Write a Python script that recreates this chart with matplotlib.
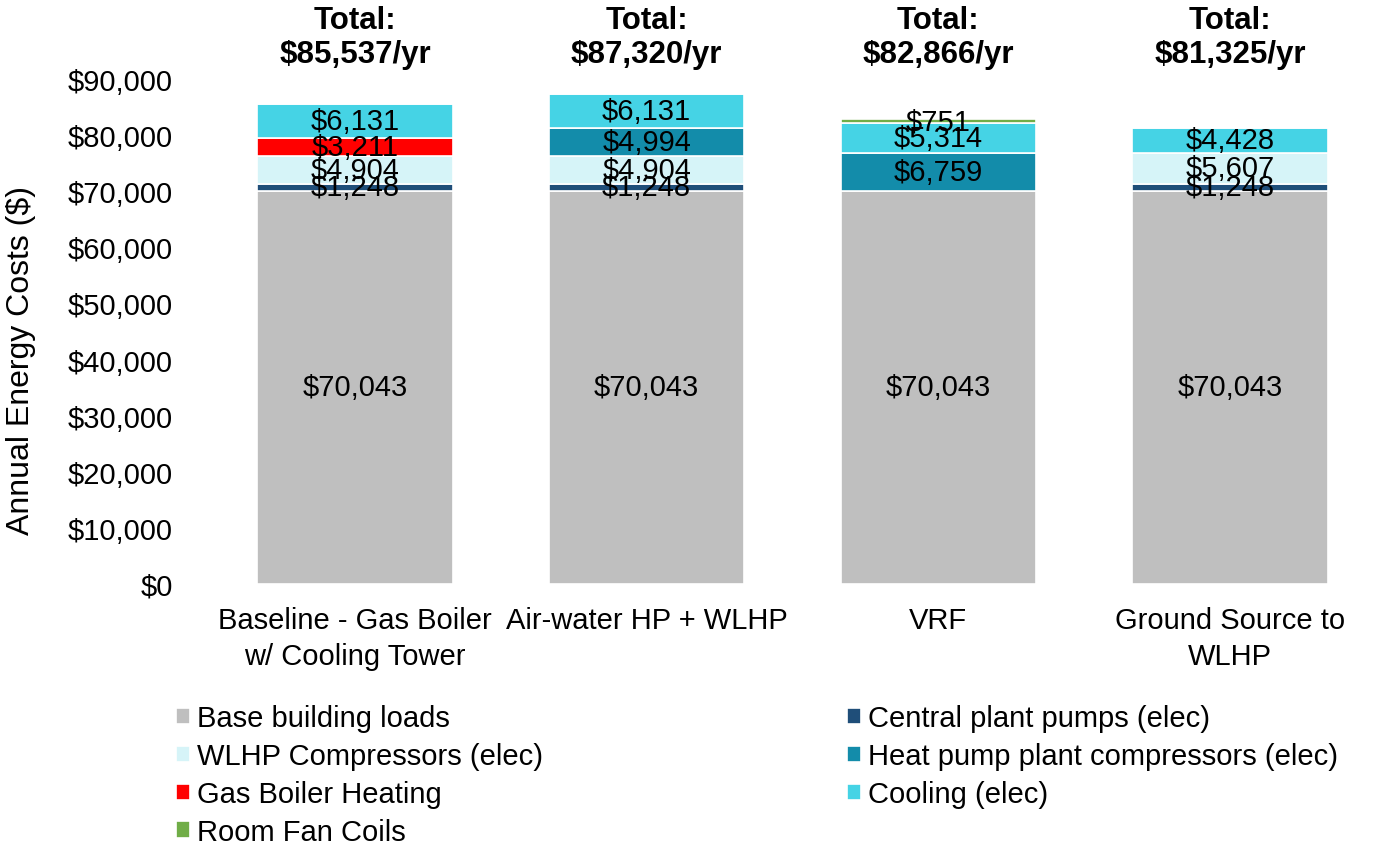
import matplotlib.pyplot as plt
import numpy as np

plt.rcParams['font.family'] = ['Liberation Sans', 'DejaVu Sans']

categories = ['Baseline - Gas Boiler\nw/ Cooling Tower', 'Air-water HP + WLHP', 'VRF',
              'Ground Source to\nWLHP']
totals = ['$85,537/yr', '$87,320/yr', '$82,866/yr', '$81,325/yr']

base_loads = [70043, 70043, 70043, 70043]
central_pumps = [1248, 1248, 0, 1248]
wlhp_comp = [4904, 4904, 0, 5607]
hp_plant = [0, 4994, 6759, 0]
gas_boiler = [3211, 0, 0, 0]
cooling = [6131, 6131, 5314, 4428]
fan_coils = [0, 0, 751, 0]

# stacking order bottom -> top
series = [
    ('Base building loads', base_loads, '#BFBFBF'),
    ('Central plant pumps (elec)', central_pumps, '#1F4E79'),
    ('WLHP Compressors (elec)', wlhp_comp, '#D6F4F8'),
    ('Heat pump plant compressors (elec)', hp_plant, '#138CAA'),
    ('Gas Boiler Heating', gas_boiler, '#FF0000'),
    ('Cooling (elec)', cooling, '#45D3E5'),
    ('Room Fan Coils', fan_coils, '#70AD47'),
]

fig = plt.figure(figsize=(13.78, 8.45), dpi=100)
ax = fig.add_axes([0.1517, 0.3077, 0.8468, 0.5976])

x = np.arange(len(categories))
bottom = np.zeros(len(categories))
handles = {}
for name, vals, color in series:
    vals = np.array(vals, dtype=float)
    bars = ax.bar(x, vals, 0.67, bottom=bottom, color=color, edgecolor='white',
                  linewidth=1.2, label=name)
    handles[name] = bars
    for xi, v, b in zip(x, vals, bottom):
        if v > 0:
            ax.text(xi, b + v / 2, f'${v:,.0f}', ha='center', va='center',
                    fontsize=21, color='black')
    bottom += vals

for xi, t in zip(x, totals):
    ax.text(xi, 97450, 'Total:\n' + t, ha='center', va='center', fontsize=22.5,
            fontweight='bold', linespacing=1.18)

ax.set_xlim(-0.5, 3.5)
ax.set_ylim(0, 90000)
ax.set_yticks(np.arange(0, 90001, 10000))
ax.yaxis.set_major_formatter(plt.FuncFormatter(lambda v, p: f'${v:,.0f}'))
ax.set_xticks(x)
ax.set_xticklabels(categories, fontsize=21, linespacing=1.36)
ax.tick_params(axis='y', labelsize=21, length=0, pad=26)
ax.tick_params(axis='x', length=0, pad=16)
for s in ax.spines.values():
    s.set_visible(False)
ax.set_ylabel('Annual Energy Costs ($)', fontsize=23)
ax.yaxis.set_label_coords(-0.148, 0.4436)

order = ['Base building loads', 'WLHP Compressors (elec)', 'Gas Boiler Heating',
         'Room Fan Coils', 'Central plant pumps (elec)',
         'Heat pump plant compressors (elec)', 'Cooling (elec)']
fig.legend([handles[n] for n in order], order, ncol=2, loc='upper left',
           bbox_to_anchor=(0.119, 0.179), frameon=False, fontsize=21,
           handlelength=0.5, handleheight=0.5, handletextpad=0.24,
           columnspacing=10.4, labelspacing=0.34, borderaxespad=0)

fig.savefig('out.png', dpi=100)
